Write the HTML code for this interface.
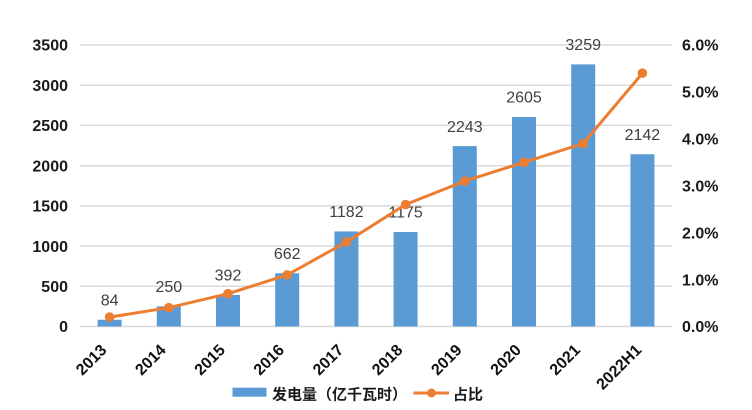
<!DOCTYPE html>
<html>
<head>
<meta charset="utf-8">
<style>
  html, body { margin: 0; padding: 0; background: #ffffff; }
  body { width: 752px; height: 410px; overflow: hidden; }
  svg { display: block; }
  .ax { font-family: "Liberation Sans", "Noto Sans CJK SC", sans-serif; font-weight: bold; font-size: 16px; fill: #1a1a1a; }
  .dl { font-family: "Liberation Sans", "Noto Sans CJK SC", sans-serif; font-size: 16px; fill: #404040; }
  .xl { font-family: "Liberation Sans", "Noto Sans CJK SC", sans-serif; font-weight: bold; font-size: 16px; fill: #111; }
  .lg { font-family: "Liberation Sans", "Noto Sans CJK SC", sans-serif; font-weight: bold; font-size: 15px; fill: #1a1a1a; }
</style>
</head>
<body>
<svg width="752" height="410" viewBox="0 0 752 410" xmlns="http://www.w3.org/2000/svg">
  <!-- gridlines -->
  <g stroke="#d9d9d9" stroke-width="1.5">
    <line x1="80" y1="45" x2="672" y2="45"/>
    <line x1="80" y1="85.2" x2="672" y2="85.2"/>
    <line x1="80" y1="125.4" x2="672" y2="125.4"/>
    <line x1="80" y1="165.7" x2="672" y2="165.7"/>
    <line x1="80" y1="205.9" x2="672" y2="205.9"/>
    <line x1="80" y1="246.1" x2="672" y2="246.1"/>
    <line x1="80" y1="286.3" x2="672" y2="286.3"/>
    <line x1="80" y1="326.5" x2="672" y2="326.5"/>
  </g>

  <!-- left axis labels -->
  <g class="ax" text-anchor="end">
    <text x="68" y="50.7">3500</text>
    <text x="68" y="90.9">3000</text>
    <text x="68" y="131.1">2500</text>
    <text x="68" y="171.4">2000</text>
    <text x="68" y="211.6">1500</text>
    <text x="68" y="251.8">1000</text>
    <text x="68" y="292">500</text>
    <text x="68" y="332.2">0</text>
  </g>

  <!-- right axis labels -->
  <g class="ax" text-anchor="start">
    <text x="682" y="50.7">6.0%</text>
    <text x="682" y="97.6">5.0%</text>
    <text x="682" y="144.5">4.0%</text>
    <text x="682" y="191.5">3.0%</text>
    <text x="682" y="238.4">2.0%</text>
    <text x="682" y="285.3">1.0%</text>
    <text x="682" y="332.2">0.0%</text>
  </g>

  <!-- bars -->
  <g fill="#5B9BD5">
    <rect x="97.6" y="319.74" width="24" height="6.76"/>
    <rect x="156.8" y="306.39" width="24" height="20.11"/>
    <rect x="216" y="294.97" width="24" height="31.53"/>
    <rect x="275.2" y="273.26" width="24" height="53.24"/>
    <rect x="334.4" y="231.43" width="24" height="95.07"/>
    <rect x="393.6" y="232.0" width="24" height="94.5"/>
    <rect x="452.8" y="146.1" width="24" height="180.4"/>
    <rect x="512" y="116.98" width="24" height="209.52"/>
    <rect x="571.2" y="64.38" width="24" height="262.12"/>
    <rect x="630.4" y="154.22" width="24" height="172.28"/>
  </g>

  <!-- data labels -->
  <g class="dl" text-anchor="middle">
    <text x="109.6" y="305.4">84</text>
    <text x="168.8" y="292.1">250</text>
    <text x="228" y="280.7">392</text>
    <text x="287.2" y="259">662</text>
    <text x="346.4" y="217.1">1182</text>
    <text x="405.6" y="217.7">1175</text>
    <text x="464.8" y="131.8">2243</text>
    <text x="524" y="102.7">2605</text>
    <text x="583.2" y="50.1">3259</text>
    <text x="642.4" y="139.9">2142</text>
  </g>

  <!-- line -->
  <polyline fill="none" stroke="#ED7D31" stroke-width="3" stroke-linejoin="round" stroke-linecap="round"
    points="109.6,317.1 168.8,307.7 228,293.7 287.2,274.9 346.4,242.0 405.6,204.5 464.8,181.1 524,162.3 583.2,143.5 642.4,73.2"/>
  <g fill="#ED7D31">
    <circle cx="109.6" cy="317.1" r="4.8"/>
    <circle cx="168.8" cy="307.7" r="4.8"/>
    <circle cx="228" cy="293.7" r="4.8"/>
    <circle cx="287.2" cy="274.9" r="4.8"/>
    <circle cx="346.4" cy="242.0" r="4.8"/>
    <circle cx="405.6" cy="204.5" r="4.8"/>
    <circle cx="464.8" cy="181.1" r="4.8"/>
    <circle cx="524" cy="162.3" r="4.8"/>
    <circle cx="583.2" cy="143.5" r="4.8"/>
    <circle cx="642.4" cy="73.2" r="4.8"/>
  </g>

  <!-- x-axis labels -->
  <g class="xl" text-anchor="end">
    <text transform="translate(107.6,351) rotate(-45)">2013</text>
    <text transform="translate(166.8,351) rotate(-45)">2014</text>
    <text transform="translate(226,351) rotate(-45)">2015</text>
    <text transform="translate(285.2,351) rotate(-45)">2016</text>
    <text transform="translate(344.4,351) rotate(-45)">2017</text>
    <text transform="translate(403.6,351) rotate(-45)">2018</text>
    <text transform="translate(462.8,351) rotate(-45)">2019</text>
    <text transform="translate(522,351) rotate(-45)">2020</text>
    <text transform="translate(581.2,351) rotate(-45)">2021</text>
    <text transform="translate(642.4,351) rotate(-45)">2022H1</text>
  </g>

  <!-- legend -->
  <rect x="232.5" y="387.7" width="34" height="9" fill="#5B9BD5"/>
  <text class="lg" x="272" y="399.5">发电量（亿千瓦时）</text>
  <line x1="413.5" y1="393" x2="449" y2="393" stroke="#ED7D31" stroke-width="3"/>
  <circle cx="431.5" cy="393" r="4.5" fill="#ED7D31"/>
  <text class="lg" x="453" y="399.5">占比</text>
</svg>
</body>
</html>
